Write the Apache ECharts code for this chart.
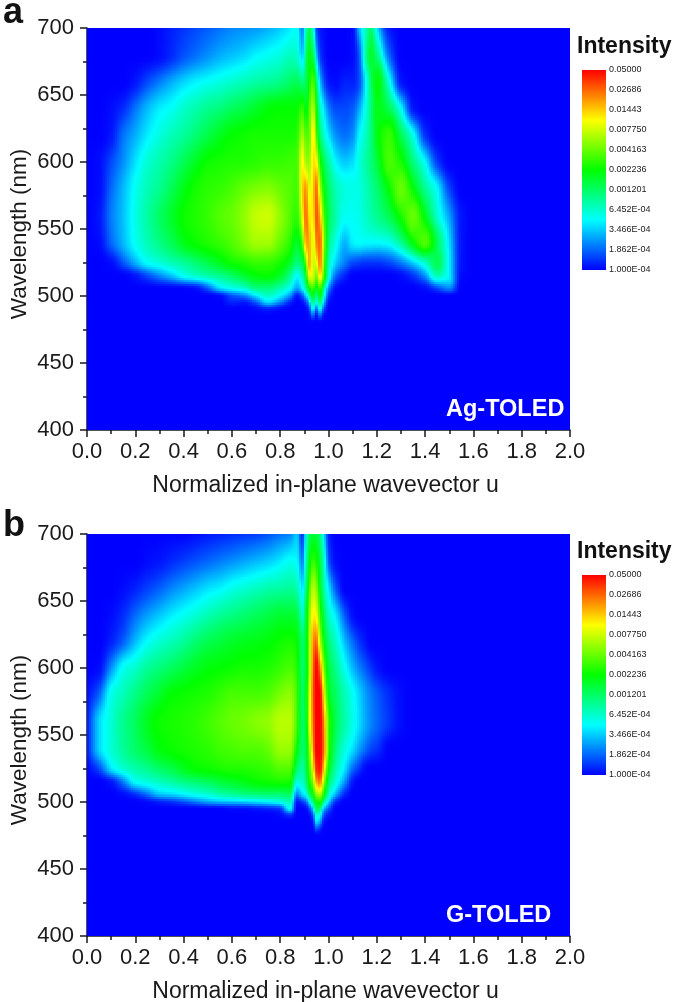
<!DOCTYPE html>
<html><head><meta charset="utf-8">
<script src="https://cdn.jsdelivr.net/npm/echarts@6/dist/echarts.min.js"></script>
<style>html,body{margin:0;padding:0;background:#fff}#c{width:675px;height:1002px}</style>
</head><body><div id="c"></div>
<script>
// u values of the matrix columns, wavelengths of the matrix rows
const U=[0,.05,.1,.15,.2,.25,.3,.35,.4,.45,.5,.55,.6,.65,.7,.75,.8,.84,.87,.89,.905,.92,.935,.95,.965,.98,1,1.03,1.07,1.1,1.125,1.15,1.175,1.2,1.25,1.3,1.35,1.4,1.45,1.5,1.55,1.6,1.7,2];
const W=[700,680,660,640,620,600,580,560,540,525,515,505,500,495,490,485,480,475,400];
// intensity on the colour-bar scale: 0 = 1.000E-04, 100 = 0.05000 (missing trailing columns are 0)
const a700=[0,0,0,0,0,0,1,3,5,7,9,11,13,14,15,17,20,23,26,12,32,42,30,8,2,1,0,0,0,1,18,30,40,22,2];
const a680=[0,0,0,0,0,0,1,4,8,11,14,17,19,21,24,26,28,31,30,20,38,48,44,22,6,2,0,0,0,1,8,32,46,38,10];
const a660=[0,0,0,0,2,7,12,17,21,24,26,28,30,32,34,35,37,40,42,38,42,50,58,42,20,8,2,1,3,3,7,22,40,50,28,2];
const a640=[0,0,1,4,11,18,23,26,30,33,36,38,41,43,46,49,50,50,50,55,48,56,68,52,32,22,12,7,7,9,16,26,38,48,42,25,2];
const a620=[0,0,2,11,17,23,28,32,35,39,43,47,50,51,52,52,52,52,53,66,58,58,78,60,40,30,22,14,11,14,24,30,38,48,55,42,27,5];
const a600=[0,1,7,14,22,29,33,37,42,47,51,52,53,53,54,55,55,56,56,76,66,64,78,76,54,42,34,24,20,22,28,33,38,44,57,52,38,25,6];
const a580=[0,1,10,18,26,32,36,42,48,52,54,55,57,60,62,63,60,58,56,78,86,72,78,90,68,50,40,32,28,27,28,31,35,39,50,60,50,36,25,7];
const a560=[0,2,12,19,27,34,40,46,51,53,55,58,60,64,69,70,64,58,54,72,90,78,76,92,82,58,42,33,26,26,27,30,33,36,42,52,60,48,30,16,2];
const a540=[0,1,10,18,26,32,37,42,48,51,53,55,58,62,66,66,60,54,46,56,84,84,70,86,90,64,38,27,18,24,25,25,25,25,27,36,50,58,42,22,2];
const a525=[0,0,1,8,17,25,28,32,35,39,43,47,51,53,55,55,52,46,38,42,60,84,70,72,88,60,32,20,12,7,6,5,5,5,7,12,20,30,42,24,2];
const a515=[0,0,0,0,2,7,13,19,26,30,33,36,40,45,49,50,46,36,25,32,48,72,72,60,78,56,28,10,3,0,0,0,0,0,0,1,5,14,32,24,1];
const a505=[0,0,0,0,0,0,0,0,0,1,8,20,25,28,36,37,32,25,15,22,34,48,56,45,55,35,12,1,0,0,0,0,0,0,0,0,0,1,6,12];
const a500=[0,0,0,0,0,0,0,0,0,0,0,1,8,12,22,30,24,14,2,8,20,32,48,36,48,28,5];
const a495=[0,0,0,0,0,0,0,0,0,0,0,0,3,2,8,20,12,3,0,1,6,16,38,24,38,18,1];
const a490=[0,0,0,0,0,0,0,0,0,0,0,0,0,0,1,3,1,0,0,0,1,6,26,10,26,8,0];
const a485=[0,0,0,0,0,0,0,0,0,0,0,0,0,0,0,0,0,0,0,0,0,1,10,1,10,1,0];
const a480=[];
const a475=[];
const a400=[];
const b700=[0,0,0,0,0,0,0,0,0,1,2,3,4,5,6,8,11,13,20,4,26,40,45,44,38,22,3];
const b680=[0,0,0,0,0,1,2,4,6,8,10,12,14,16,18,20,23,26,25,12,32,46,55,52,44,30,8,1];
const b660=[0,0,0,1,3,6,9,13,16,19,22,24,27,29,31,33,34,35,33,22,38,54,68,64,48,34,22,8];
const b640=[0,0,1,4,10,15,19,23,26,29,32,35,37,39,41,43,45,45,44,30,45,60,76,74,56,42,30,22,8,1];
const b620=[0,0,3,9,18,25,29,32,35,39,42,44,46,47,48,49,51,52,50,40,46,62,85,90,68,50,38,30,18,10,5,2];
const b600=[0,1,14,26,30,35,38,41,44,47,49,50,51,52,52,53,55,57,53,40,46,62,88,100,88,62,44,36,26,18,13,9,5,2];
const b580=[1,10,27,32,37,42,46,50,51,52,53,55,57,57,57,58,62,64,56,40,48,66,90,100,100,75,48,40,32,26,21,16,12,9,4,1];
const b560=[2,21,29,36,41,47,51,52,53,54,56,58,60,61,63,64,68,68,56,40,46,68,88,100,100,86,55,42,33,27,22,17,13,10,5,1];
const b540=[2,21,29,35,40,44,49,51,52,53,54,56,57,58,58,60,65,65,50,40,44,60,84,100,100,88,55,38,28,22,16,11,7,5];
const b525=[0,7,22,29,33,36,40,43,47,50,51,52,53,53,54,55,58,58,40,34,42,55,72,95,98,78,48,33,22,10,5,1];
const b515=[0,0,2,12,25,28,31,34,37,39,41,44,46,48,50,51,52,52,28,30,38,50,62,82,88,65,40,28,14,2];
const b505=[0,0,0,1,4,10,18,20,23,26,28,32,34,36,37,38,38,40,12,20,25,38,48,62,65,50,30,16,3];
const b500=[0,0,0,0,0,1,3,5,8,12,16,18,19,20,22,24,27,32,2,5,10,22,36,50,52,36,20,4];
const b495=[0,0,0,0,0,0,0,0,0,0,0,0,1,1,2,3,5,25,0,0,1,6,20,42,38,18,8];
const b490=[0,0,0,0,0,0,0,0,0,0,0,0,0,0,0,0,1,5,0,0,0,1,8,30,26,8,2];
const b485=[0,0,0,0,0,0,0,0,0,0,0,0,0,0,0,0,0,0,0,0,0,0,2,22,16,2];
const b480=[0,0,0,0,0,0,0,0,0,0,0,0,0,0,0,0,0,0,0,0,0,0,0,8,4];
const b475=[];
const b400=[];
const panelA=[a700,a680,a660,a640,a620,a600,a580,a560,a540,a525,a515,a505,a500,a495,a490,a485,a480,a475,a400];
const panelB=[b700,b680,b660,b640,b620,b600,b580,b560,b540,b525,b515,b505,b500,b495,b490,b485,b480,b475,b400];
const barLabels=['1.000E-04','1.862E-04','3.466E-04','6.452E-04','0.001201','0.002236','0.004163','0.007750','0.01443','0.02686','0.05000'];
const barEnds=[0,100];
const barPos=[0,10];

const FONT='"Liberation Sans",Arial,sans-serif';
const stops=[[0,0,255],[0,255,255],[0,255,0],[255,255,0],[255,0,0]];
function color(l){
  const t=Math.max(0,Math.min(3.9999,l/25)),i=Math.floor(t),f=t-i,a=stops[i],b=stops[i+1];
  return 'rgb('+Math.round(a[0]+(b[0]-a[0])*f)+','+Math.round(a[1]+(b[1]-a[1])*f)+','+Math.round(a[2]+(b[2]-a[2])*f)+')';
}
const panels=[
  {X:U,Y:W,M:panelA.map(r=>U.map((_,c)=>r[c]||0))},
  {X:U,Y:W,M:panelB.map(r=>U.map((_,c)=>r[c]||0))}
];
// monotone cubic shading between neighbouring readings
function slope(x,v,i){
  const n=x.length;
  const d=k=>(v[k+1]-v[k])/(x[k+1]-x[k]);
  if(i===0)return d(0);
  if(i===n-1)return d(n-2);
  const d0=d(i-1),d1=d(i);
  if(d0*d1<=0)return 0;
  const h0=x[i]-x[i-1],h1=x[i+1]-x[i],w1=2*h1+h0,w2=h1+2*h0;
  return (w1+w2)/(w1/d0+w2/d1);
}
function hermite(x,v,i,s){
  const h=x[i+1]-x[i],m0=slope(x,v,i),m1=slope(x,v,i+1),s2=s*s,s3=s2*s;
  return (2*s3-3*s2+1)*v[i]+(s3-2*s2+s)*h*m0+(-2*s3+3*s2)*v[i+1]+(s3-s2)*h*m1;
}
function cells(p){
  const out=[];
  for(let r=0;r<W.length-1;r++)for(let c=0;c<U.length-1;c++){
    out.push([U[c],U[c+1],W[r],W[r+1],p,r,c]);
  }
  return out;
}
const STEP=2;
function renderCell(params,api){
  const x0=api.value(0),x1=api.value(1),y0=api.value(2),y1=api.value(3),pi=api.value(4),r=api.value(5),c=api.value(6);
  const P=panels[pi],M=P.M;
  const p0=api.coord([x0,y0]),p1=api.coord([x1,y1]);
  const L=Math.round(Math.min(p0[0],p1[0])),R=Math.round(Math.max(p0[0],p1[0]));
  const T=Math.round(Math.min(p0[1],p1[1])),B=Math.round(Math.max(p0[1],p1[1]));
  // flat block when this cell and its neighbours all hold the same reading
  let same=true;const v0=M[r][c];
  for(let a=Math.max(0,r-1);a<=Math.min(M.length-1,r+2)&&same;a++)
    for(let b=Math.max(0,c-1);b<=Math.min(U.length-1,c+2);b++) if(M[a][b]!==v0){same=false;break;}
  if(same) return {type:'rect',silent:true,shape:{x:L,y:T,width:R-L,height:B-T},style:{fill:color(v0)}};
  const ch=[];
  const a0=Math.max(0,r-1),a1=Math.min(M.length-1,r+2);
  const cols=[];for(let b=Math.max(0,c-1);b<=Math.min(U.length-1,c+2);b++)cols.push(b);
  const xs=cols.map(b=>U[b]);
  const ys=[];for(let a=a0;a<=a1;a++)ys.push(W[a]);
  const colVals=cols.map(b=>{const o=[];for(let a=a0;a<=a1;a++)o.push(M[a][b]);return o;});
  const ci=c-cols[0],ri=r-a0;
  for(let py=T;py<B;py+=STEP){
    const h=Math.min(STEP,B-py),t=(py+h/2-T)/(B-T);
    const rowVals=colVals.map(v=>hermite(ys,v,ri,t));
    for(let px=L;px<R;px+=STEP){
      const w=Math.min(STEP,R-px),s=(px+w/2-L)/(R-L);
      ch.push({type:'rect',silent:true,shape:{x:px,y:py,width:w,height:h},style:{fill:color(hermite(xs,rowVals,ci,s))}});
    }
  }
  return {type:'group',children:ch};
}
function renderBar(params,api){
  const ch=[];
  const s0=api.coord([0,api.value(0)]),s1=api.coord([1,api.value(1)]);
  const T=Math.round(s1[1]),B=Math.round(s0[1]),L=Math.round(s0[0]),R=Math.round(s1[0]);
  for(let py=T;py<B;py++){
    const lvl=barEnds[1]+(barEnds[0]-barEnds[1])*(py+.5-T)/(B-T);
    ch.push({type:'rect',silent:true,shape:{x:L,y:py,width:R-L,height:1},style:{fill:color(lvl)}});
  }
  return {type:'group',children:ch};
}
function field(i){
  return {type:'custom',xAxisIndex:i,yAxisIndex:i,data:cells(i),renderItem:renderCell,encode:{x:[0,1],y:[2,3]},dimensions:['u0','u1','w0','w1','p','r','c'],progressive:0,animation:false,silent:true,clip:true};
}
function bar(i){
  return {type:'custom',xAxisIndex:i,yAxisIndex:i,data:[barPos],renderItem:renderBar,encode:{y:[0,1]},progressive:0,animation:false,silent:true};
}
const lineS={color:'#1a1a1a',width:1.5};
function xMain(g){return {gridIndex:g,type:'value',min:0,max:2,interval:.2,name:'Normalized in-plane wavevector u',nameLocation:'middle',nameGap:44,nameMoveOverlap:false,
  nameTextStyle:{fontFamily:FONT,fontSize:23,color:'#1a1a1a',padding:[0,6,0,0]},axisLine:{onZero:false,lineStyle:lineS},axisTick:{length:7,lineStyle:lineS},
  minorTick:{show:true,splitNumber:2,length:4,lineStyle:lineS},splitLine:{show:false},minorSplitLine:{show:false},
  axisLabel:{fontFamily:FONT,fontSize:22,color:'#1a1a1a',margin:11,showMinLabel:true,showMaxLabel:true,formatter:v=>v.toFixed(1)}};}
function yMain(g){return {gridIndex:g,type:'value',min:400,max:700,interval:50,name:'Wavelength (nm)',nameLocation:'middle',nameGap:56,nameMoveOverlap:false,
  nameTextStyle:{fontFamily:FONT,fontSize:22.5,color:'#1a1a1a',padding:[0,10,0,0]},axisLine:{onZero:false,show:true,lineStyle:lineS},axisTick:{show:true,length:7,lineStyle:lineS},
  minorTick:{show:true,splitNumber:2,length:4,lineStyle:lineS},splitLine:{show:false},minorSplitLine:{show:false},
  axisLabel:{fontFamily:FONT,fontSize:22,color:'#1a1a1a',margin:13,showMinLabel:true,showMaxLabel:true}};}
function xBar(g){return {gridIndex:g,type:'value',min:0,max:1,show:false};}
function yBar(g){return {gridIndex:g,type:'value',min:0,max:10,interval:1,position:'right',axisLine:{show:false},axisTick:{show:false},splitLine:{show:false},
  axisLabel:{fontFamily:FONT,fontSize:9,color:'#222',margin:3,showMinLabel:true,showMaxLabel:true,formatter:v=>barLabels[Math.round(v)]}};}
function txt(x,y,t,size,fill,weight){return {type:'text',x:x,y:y,z:100,silent:true,style:{text:t,font:(weight||'bold')+' '+size+'px '+FONT,fill:fill,textVerticalAlign:'middle',textBaseline:'middle'}};}

const chart=echarts.init(document.getElementById('c'),null,{renderer:'canvas'});
chart.setOption({
  animation:false,backgroundColor:'#fff',
  grid:[{left:87,top:28,width:483,height:402,backgroundColor:'#0000ff',show:true,borderWidth:0,outerBoundsMode:'none'},
        {left:87,top:534,width:483,height:402,backgroundColor:'#0000ff',show:true,borderWidth:0,outerBoundsMode:'none'},
        {left:582,top:70,width:24,height:200,outerBoundsMode:'none'},
        {left:582,top:575,width:24,height:200,outerBoundsMode:'none'}],
  xAxis:[xMain(0),xMain(1),xBar(2),xBar(3)],
  yAxis:[yMain(0),yMain(1),yBar(2),yBar(3)],
  series:[field(0),field(1),bar(2),bar(3)],
  graphic:[txt(3,13,'a',36,'#111'),txt(3,526,'b',36,'#111'),
    txt(577,47,'Intensity',23,'#111'),txt(577,552,'Intensity',23,'#111'),
    txt(446,410,'Ag-TOLED',23.5,'#fff'),txt(446,916,'G-TOLED',23.5,'#fff')]
});
</script></body></html>
